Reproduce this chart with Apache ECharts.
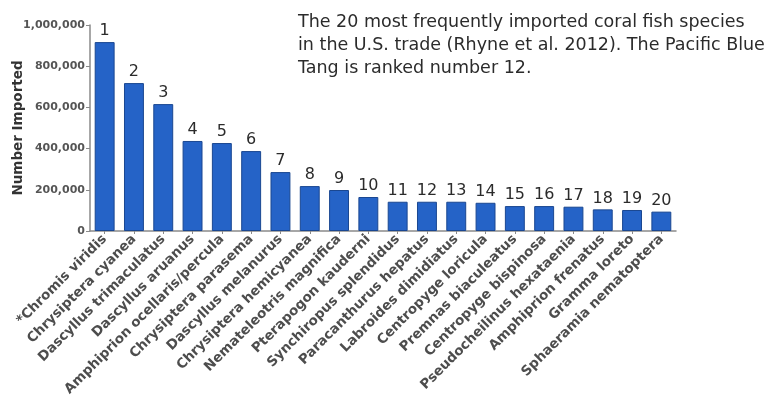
<!DOCTYPE html>
<html>
<head>
<meta charset="utf-8">
<script src="https://cdn.jsdelivr.net/npm/echarts@6/dist/echarts.min.js"></script>
<style>
  html, body { margin: 0; padding: 0; background: #fff; }
  #main { width: 779px; height: 401px; }
</style>
</head>
<body>
<div id="main"></div>
<script>
// species, ordered by rank
var species = [
  '*Chromis viridis', 'Chrysiptera cyanea', 'Dascyllus trimaculatus', 'Dascyllus aruanus',
  'Amphiprion ocellaris/percula', 'Chrysiptera parasema', 'Dascyllus melanurus', 'Chrysiptera hemicyanea',
  'Nemateleotris magnifica', 'Pterapogon kauderni', 'Synchiropus splendidus', 'Paracanthurus hepatus',
  'Labroides dimidiatus', 'Centropyge loricula', 'Premnas biaculeatus', 'Centropyge bispinosa',
  'Pseudocheilinus hexataenia', 'Amphiprion frenatus', 'Gramma loreto', 'Sphaeramia nematoptera'
];
var imported = [
  917000, 718000, 616000, 437000, 427000, 388000, 286000, 218000, 199000, 165000,
  142000, 142000, 142000, 137000, 121000, 121000, 118000, 105000, 102000, 94000
];
var ranks = ['1','2','3','4','5','6','7','8','9','10','11','12','13','14','15','16','17','18','19','20'];
var yTicks = [0, 200000, 400000, 600000, 800000, 1000000];

var titleText = 'The 20 most frequently imported coral fish species\n' +
  'in the U.S. trade (Rhyne et al. 2012). The Pacific Blue\n' +
  'Tang is ranked number 12.';

var chart = echarts.init(document.getElementById('main'));
chart.setOption({
  backgroundColor: '#fff',
  animation: false,
  title: {
    text: titleText,
    left: 293,
    top: 6,
    textStyle: {
      fontFamily: 'DejaVu Sans',
      fontSize: 17.5,
      fontWeight: 'normal',
      color: '#2b2b2b',
      lineHeight: 23
    }
  },
  grid: {
    left: 90,
    right: 103,
    top: 25,
    bottom: 170,
    outerBoundsMode: 'none'
  },
  xAxis: {
    type: 'category',
    data: species,
    axisLine: { lineStyle: { color: '#8a8a8a', width: 1.5 } },
    axisTick: { show: true, alignWithLabel: true, length: 3, lineStyle: { color: '#8a8a8a' } },
    axisLabel: {
      interval: 0,
      rotate: 45,
      margin: 6,
      fontFamily: 'DejaVu Sans',
      fontWeight: 'bold',
      fontSize: 13.5,
      color: '#4d4d4d'
    }
  },
  yAxis: {
    type: 'value',
    min: 0,
    max: 1000000,
    interval: 200000,
    name: 'Number Imported',
    nameLocation: 'middle',
    nameGap: 65,
    nameMoveOverlap: false,
    nameTextStyle: {
      fontFamily: 'DejaVu Sans',
      fontWeight: 'bold',
      fontSize: 13.5,
      color: '#333'
    },
    splitLine: { show: false },
    axisLine: { show: true, lineStyle: { color: '#8a8a8a', width: 1.5 } },
    axisTick: { show: true, length: 4, lineStyle: { color: '#8a8a8a' } },
    axisLabel: {
      margin: 5,
      fontFamily: 'DejaVu Sans',
      fontWeight: 'bold',
      fontSize: 11,
      color: '#555',
      formatter: function (v) {
        return yTicks.indexOf(v) >= 0 ? v.toLocaleString('en-US') : '';
      }
    }
  },
  series: [{
    type: 'bar',
    data: imported,
    barWidth: '68%',
    itemStyle: {
      color: '#2563c7',
      borderColor: '#1a4791',
      borderWidth: 1
    },
    label: {
      show: true,
      position: 'top',
      distance: 3,
      fontFamily: 'DejaVu Sans',
      fontSize: 16,
      color: '#2b2b2b',
      formatter: function (p) { return ranks[p.dataIndex]; }
    }
  }]
});
</script>
</body>
</html>
